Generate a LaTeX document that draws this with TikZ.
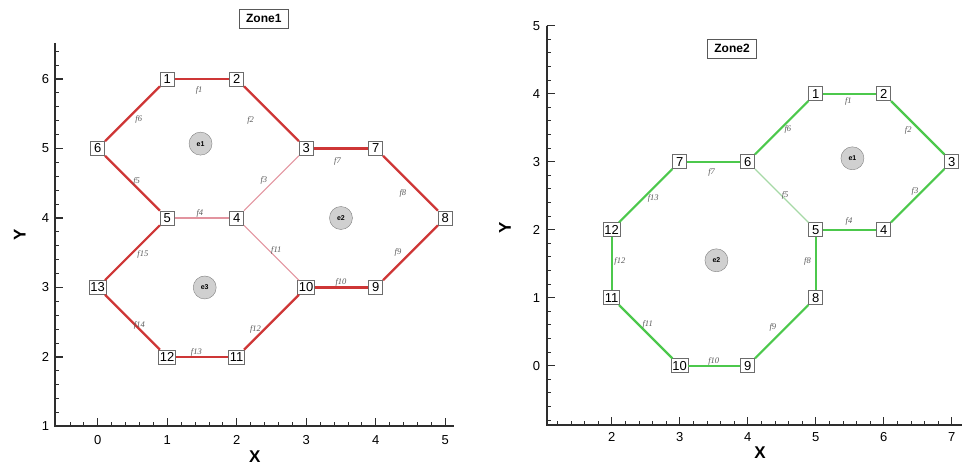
\documentclass[tikz,border=0pt]{standalone}
\usepackage{fontspec}
\setmainfont{Liberation Sans}
\newfontfamily\facefont{Liberation Serif}
\usepackage{xcolor}
\usepackage{tikz}
\usetikzlibrary{positioning}
\definecolor{zonered}{HTML}{CE3636}
\definecolor{palered}{HTML}{E2949F}
\definecolor{zonegreen}{HTML}{4CC84C}
\definecolor{palegreen}{HTML}{A6D9A6}
\definecolor{cellgray}{HTML}{D0D0D0}
\definecolor{axisgray}{HTML}{2E2E2E}

\tikzset{
    vtx/.style={draw=gray!85!black, fill=white, line width=0.6pt, inner xsep=1.2pt, inner ysep=0.8pt,
                minimum width=14pt, minimum height=14pt, font=\fontsize{13}{13}\selectfont},
    elem/.style={circle, draw=gray, fill=cellgray, minimum size=23pt, inner sep=0pt,
                 font=\bfseries\fontsize{7}{7}\selectfont},
    flab/.style={text=gray!70!black, inner sep=0pt, font=\facefont\itshape\fontsize{8.5}{8.5}\selectfont},
    zonebox/.style={draw=gray!70!black, line width=0.6pt, fill=white, inner xsep=7pt, inner ysep=5.5pt,
                    font=\bfseries\fontsize{12}{12}\selectfont},
    redface/.style={zonered, line width=2.2pt},
    paleredface/.style={palered, line width=1.1pt},
    greenface/.style={zonegreen, line width=2.2pt},
    palegreenface/.style={palegreen, line width=1.1pt},
    axisline/.style={axisgray, line width=2pt},
    majortick/.style={axisgray, line width=1.3pt},
    minortick/.style={axisgray, line width=0.8pt},
    ticklab/.style={inner sep=0pt, font=\fontsize{13}{13}\selectfont},
    axislab/.style={inner sep=0pt, font=\bfseries\fontsize{17}{17}\selectfont}
}

\begin{document}
\begin{tikzpicture}
    \useasboundingbox (0,0) rectangle (965pt,465pt);

    % Zone1
    \begin{scope}[shift={(97.7pt,-31pt)}, x=69.5pt, y=69.5pt]
        \draw[axisline] (-0.61,6.52) -- (-0.61,1) -- (5.12,1);
        \foreach \t in {-2,...,25} \draw[minortick] (\t*0.2,1) -- ++(0,4pt);
        \foreach \t in {6,...,32} \draw[minortick] (-0.61,\t*0.2) -- ++(4pt,0);
        \foreach \t in {0,...,5} {
            \draw[majortick] (\t,1) -- ++(0,8pt);
            \node[ticklab, anchor=north] (ax\t) at ([yshift=-9pt]\t,1) {\t};
        }
        \foreach \t in {1,...,6} {
            \draw[majortick] (-0.61,\t) -- ++(8pt,0);
            \node[ticklab, anchor=east] (ay\t) at ([xshift=-6pt]-0.61,\t) {\t};
        }
        \node[axislab] (xlabA) at (2.26,0.56) {X};
        \node[axislab, rotate=90] (ylabA) at (-1.12,3.76) {Y};
        \node[zonebox] (zoneA) at (2.39,6.87) {Zone1};

        \foreach \n/\x/\y in {1/1/6, 2/2/6, 3/3/5, 4/2/4, 5/1/4, 6/0/5, 7/4/5,
                              8/5/4, 9/4/3, 10/3/3, 11/2/2, 12/1/2, 13/0/3}
            \node[vtx] (a\n) at (\x,\y) {\n};
        \foreach \s/\e in {1/2, 2/3, 6/1, 6/5, 3/7, 7/8, 9/8, 10/9, 11/10, 12/11, 13/12, 5/13}
            \draw[redface] (a\s) -- (a\e);
        \foreach \s/\e in {5/4, 4/3, 4/10}
            \draw[paleredface] (a\s) -- (a\e);

        \foreach \n/\x/\y in {1/1.46/5.83, 2/2.2/5.4, 3/2.39/4.54, 4/1.47/4.07, 5/0.56/4.53,
                              6/0.59/5.42, 7/3.45/4.82, 8/4.39/4.35, 9/4.32/3.5, 10/3.5/3.08,
                              11/2.57/3.54, 12/2.27/2.4, 13/1.42/2.07, 14/0.6/2.45, 15/0.65/3.47}
            \node[flab] (af\n) at (\x,\y) {f\n};

        \node[elem] (ae1) at (1.48,5.07) {e1};
        \node[elem] (ae2) at (3.5,4.0) {e2};
        \node[elem] (ae3) at (1.54,3.0) {e3};
    \end{scope}

    % Zone2
    \begin{scope}[shift={(475.7pt,99.3pt)}, x=68pt, y=68pt]
        \draw[axisline] (1.044,5) -- (1.044,-0.87) -- (7.15,-0.87);
        \foreach \t in {6,...,35} \draw[minortick] (\t*0.2,-0.87) -- ++(0,4pt);
        \foreach \t in {-4,...,25} \draw[minortick] (1.044,\t*0.2) -- ++(4pt,0);
        \foreach \t in {2,...,7} {
            \draw[majortick] (\t,-0.87) -- ++(0,8pt);
            \node[ticklab, anchor=north] (bx\t) at ([yshift=-7pt]\t,-0.87) {\t};
        }
        \foreach \t in {0,...,5} {
            \draw[majortick] (1.044,\t) -- ++(8pt,0);
            \node[ticklab, anchor=east] (by\t) at ([xshift=-6.5pt]1.044,\t) {\t};
        }
        \node[axislab] (xlabB) at (4.18,-1.28) {X};
        \node[axislab, rotate=90] (ylabB) at (0.43,2.03) {Y};
        \node[zonebox] (zoneB) at (3.77,4.66) {Zone2};

        \foreach \n/\x/\y in {1/5/4, 2/6/4, 3/7/3, 4/6/2, 5/5/2, 6/4/3,
                              7/3/3, 8/5/1, 9/4/0, 10/3/0, 11/2/1, 12/2/2}
            \node[vtx] (b\n) at (\x,\y) {\n};
        \foreach \s/\e in {1/2, 2/3, 3/4, 5/4, 6/1, 7/6, 12/7, 12/11, 11/10, 10/9, 9/8, 8/5}
            \draw[greenface] (b\s) -- (b\e);
        \draw[palegreenface] (b6) -- (b5);

        \foreach \n/\x/\y in {1/5.48/3.88, 2/6.36/3.46, 3/6.46/2.56, 4/5.49/2.12, 5/4.55/2.51,
                              6/4.59/3.47, 7/3.47/2.84, 8/4.88/1.54, 9/4.37/0.57, 10/3.5/0.06,
                              11/2.53/0.6, 12/2.12/1.54, 13/2.61/2.46}
            \node[flab] (bf\n) at (\x,\y) {f\n};

        \node[elem] (be1) at (5.54,3.05) {e1};
        \node[elem] (be2) at (3.54,1.55) {e2};
    \end{scope}
\end{tikzpicture}
\end{document}
